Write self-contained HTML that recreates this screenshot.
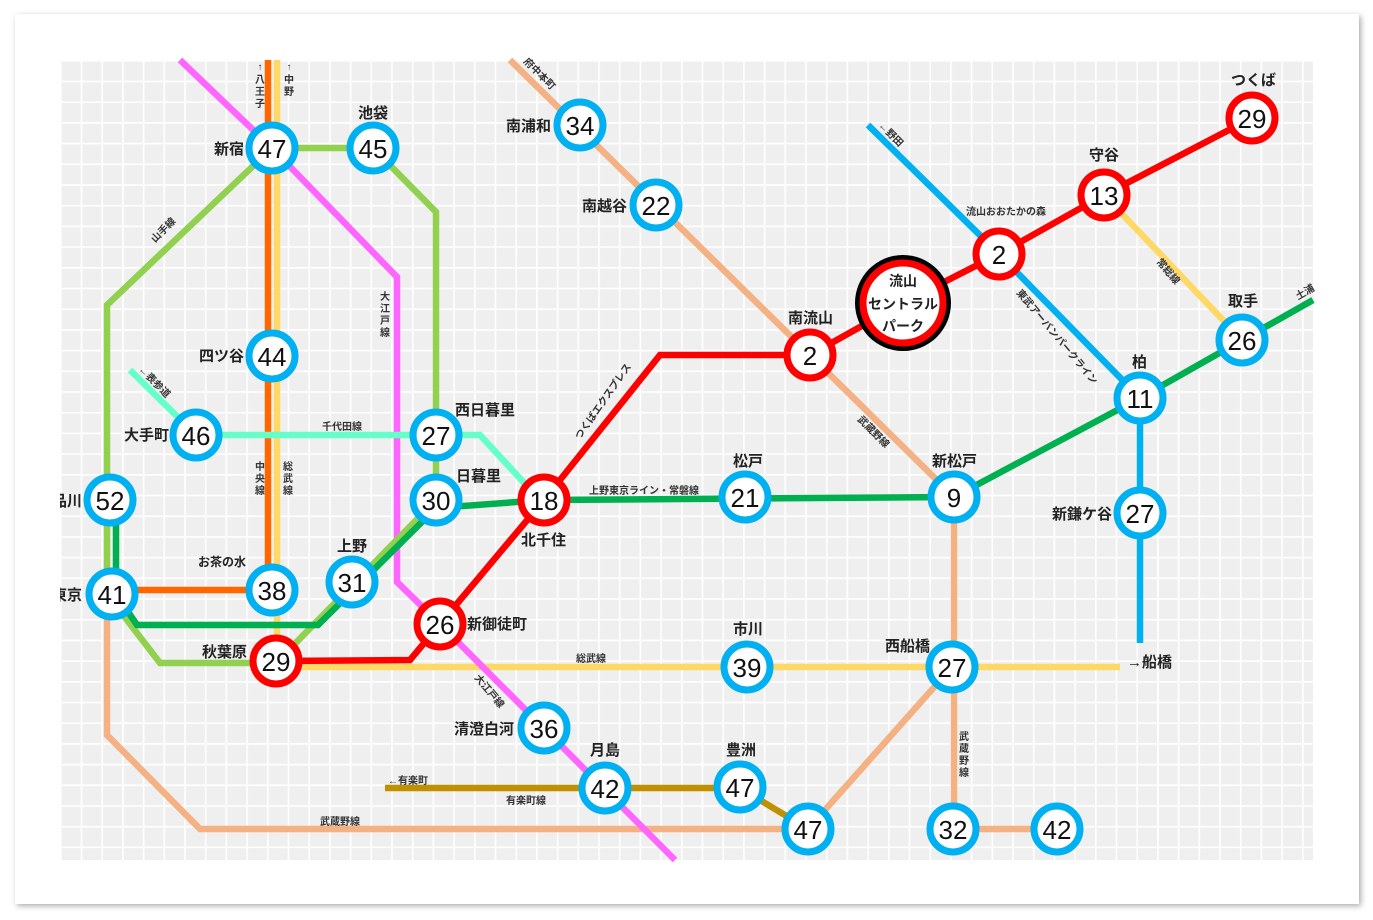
<!DOCTYPE html>
<html><head><meta charset="utf-8"><style>
html,body{margin:0;padding:0;background:#fff;}
svg{display:block;font-family:"Liberation Sans","Noto Sans CJK JP",sans-serif;}
.n{font-size:26px;font-weight:normal;text-anchor:middle;dominant-baseline:central;fill:#111;}
.s{font-size:15px;font-weight:bold;fill:#222;}
.l{font-size:10px;font-weight:bold;fill:#333;}
</style></head><body>
<svg width="1373" height="920" viewBox="0 0 1373 920" xmlns="http://www.w3.org/2000/svg">
<defs>
<pattern id="g" x="60" y="60" width="20.7" height="20.7" patternUnits="userSpaceOnUse">
<rect width="20.7" height="20.7" fill="#efefef"/>
<rect width="1.6" height="20.7" fill="#fff"/><rect width="20.7" height="1.6" fill="#fff"/>
</pattern>
<clipPath id="cp"><rect x="60" y="60" width="1253" height="800"/></clipPath>
<filter id="sh" x="-5%" y="-5%" width="110%" height="110%"><feDropShadow dx="2" dy="2" stdDeviation="3" flood-color="#888" flood-opacity="0.7"/></filter>
</defs>
<rect x="15" y="14" width="1344" height="890" fill="#fff" filter="url(#sh)"/>
<rect x="60" y="60" width="1253" height="800" fill="url(#g)"/>
<g fill="none" stroke-width="6.5" stroke-linejoin="miter">
<polyline stroke="#f4b183" points="510,60 810,355 954,497 954,829 1057,829"/>
<polyline stroke="#f4b183" points="952,667 808,829 200,829 107,735 107,594"/>
<polyline stroke="#00b0f0" points="868,125 999,254 1140,398 1140,643"/>
<polyline stroke="#ffd966" points="1104,195 1242,340"/>
<line stroke="#ffd966" x1="277" y1="60" x2="277" y2="661"/>
<line stroke="#ff6600" x1="268" y1="60" x2="268" y2="590"/>
<line stroke="#ff6600" x1="112" y1="590" x2="272" y2="590"/>
<polyline stroke="#ffd966" points="276,667 1120,667"/>
<polyline stroke="#ff66ff" points="180,60 272,148 397,277 397,582 440,624 675,860"/>
<polyline stroke="#92d050" points="272,148 107,305 107,594 160,663 276,663 436,500"/>
<polyline stroke="#92d050" points="272,148 373,148 436,212 436,500"/>
<polyline stroke="#00b050" points="116,500 116,594 137,625 318,625 436,508 544,500 954,497 1140,398 1313,300"/>
<polyline stroke="#66ffcc" points="130,370 196,435 480,435 528,487"/>
<polyline stroke="#bf9000" points="385,788 740,788 808,829"/>
<polyline stroke="#ff0000" points="1252,118 1104,195 999,254 903,303 810,355 660,355 544,500 440,624 410,660 276,661"/>
</g>
<g fill="#fff" stroke="#00b0f0" stroke-width="7">
<circle cx="272" cy="148" r="23"/><circle cx="373" cy="148" r="23"/><circle cx="272" cy="356" r="23"/>
<circle cx="196" cy="435" r="23"/><circle cx="436" cy="435" r="23"/><circle cx="436" cy="500" r="23"/>
<circle cx="110" cy="500" r="23"/><circle cx="112" cy="594" r="23"/><circle cx="272" cy="590" r="23"/>
<circle cx="352" cy="582" r="23"/><circle cx="580" cy="125" r="23"/><circle cx="656" cy="205" r="23"/>
<circle cx="745" cy="497" r="23"/><circle cx="954" cy="497" r="23"/><circle cx="1140" cy="398" r="23"/>
<circle cx="1242" cy="340" r="23"/><circle cx="1140" cy="513" r="23"/><circle cx="952" cy="667" r="23"/>
<circle cx="747" cy="667" r="23"/><circle cx="544" cy="728" r="23"/><circle cx="605" cy="788" r="23"/>
<circle cx="740" cy="787" r="23"/><circle cx="808" cy="829" r="23"/><circle cx="953" cy="829" r="23"/>
<circle cx="1057" cy="829" r="23"/>
</g>
<circle cx="903" cy="303" r="48" fill="#000"/>
<g fill="#fff" stroke="#ff0000" stroke-width="7">
<circle cx="1252" cy="118" r="23"/><circle cx="1104" cy="195" r="23"/><circle cx="999" cy="254" r="23"/>
<circle cx="810" cy="355" r="23"/><circle cx="544" cy="500" r="23"/><circle cx="440" cy="624" r="23"/>
<circle cx="276" cy="661" r="23"/>
<circle cx="903" cy="303" r="40"/>
</g>
<g class="n">
<text x="272" y="149">47</text><text x="373" y="149">45</text><text x="272" y="357">44</text>
<text x="196" y="436">46</text><text x="436" y="436">27</text><text x="436" y="501">30</text>
<text x="110" y="501">52</text><text x="112" y="595">41</text><text x="272" y="591">38</text>
<text x="352" y="583">31</text><text x="580" y="126">34</text><text x="656" y="206">22</text>
<text x="745" y="498">21</text><text x="954" y="498">9</text><text x="1140" y="399">11</text>
<text x="1242" y="341">26</text><text x="1140" y="514">27</text><text x="952" y="668">27</text>
<text x="747" y="668">39</text><text x="544" y="729">36</text><text x="605" y="789">42</text>
<text x="740" y="788">47</text><text x="808" y="830">47</text><text x="953" y="830">32</text>
<text x="1057" y="830">42</text>
<text x="1252" y="119">29</text><text x="1104" y="196">13</text><text x="999" y="255">2</text>
<text x="810" y="356">2</text><text x="544" y="501">18</text><text x="440" y="625">26</text>
<text x="276" y="662">29</text>
</g>
<g class="s" text-anchor="middle">
<text x="903" y="286" font-size="14">流山</text>
<text x="903" y="309" font-size="14">セントラル</text>
<text x="903" y="331" font-size="14">パーク</text>
</g>
<g class="s" clip-path="url(#cp)">
<text x="214" y="154">新宿</text><text x="358" y="118">池袋</text><text x="199" y="361">四ツ谷</text>
<text x="124" y="440">大手町</text><text x="455" y="415">西日暮里</text><text x="456" y="481">日暮里</text>
<text x="52" y="506">品川</text><text x="52" y="600">東京</text><text x="198" y="566" font-size="12">お茶の水</text>
<text x="337" y="551">上野</text><text x="202" y="657">秋葉原</text><text x="506" y="131">南浦和</text>
<text x="582" y="211">南越谷</text><text x="788" y="323">南流山</text><text x="733" y="466">松戸</text>
<text x="932" y="466">新松戸</text><text x="1132" y="367">柏</text><text x="1228" y="306">取手</text>
<text x="1052" y="519">新鎌ケ谷</text><text x="885" y="651">西船橋</text><text x="733" y="634">市川</text>
<text x="1127" y="667">→船橋</text><text x="454" y="734">清澄白河</text><text x="590" y="755">月島</text>
<text x="726" y="755">豊洲</text><text x="521" y="545">北千住</text><text x="467" y="629">新御徒町</text>
<text x="1089" y="160">守谷</text><text x="1231" y="85">つくば</text>
</g>
<g class="l">
<text x="966" y="215">流山おおたかの森</text>
<text x="322" y="430">千代田線</text><text x="589" y="494">上野東京ライン・常磐線</text>
<text x="576" y="662">総武線</text><text x="506" y="804">有楽町線</text><text x="388" y="784">←有楽町</text>
<text x="320" y="825">武蔵野線</text>
<text transform="translate(155,243) rotate(-45)">山手線</text>
<text transform="translate(138,370) rotate(45)">←表参道</text>
<text transform="translate(878,126) rotate(45)">←野田</text>
<text transform="translate(523,62) rotate(45)">府中本町</text>
<text transform="translate(857,420) rotate(45)">武蔵野線</text>
<text transform="translate(1016,293) rotate(50)">東武アーバンパークライン</text>
<text transform="translate(1156,262) rotate(50)">常総線</text>
<text transform="translate(580,440) rotate(-55)">つくばエクスプレス</text>
<text transform="translate(474,678) rotate(50)">大江戸線</text>
<text transform="translate(1298,300) rotate(-30)">土浦</text>
</g>
<g class="l" text-anchor="middle">
<text x="260" y="70">↑</text><text x="260" y="83">八</text><text x="260" y="95">王</text><text x="260" y="107">子</text>
<text x="289" y="70">↑</text><text x="289" y="83">中</text><text x="289" y="95">野</text>
<text x="385" y="300">大</text><text x="385" y="312">江</text><text x="385" y="324">戸</text><text x="385" y="336">線</text>
<text x="260" y="470">中</text><text x="260" y="482">央</text><text x="260" y="494">線</text>
<text x="288" y="470">総</text><text x="288" y="482">武</text><text x="288" y="494">線</text>
<text x="964" y="740">武</text><text x="964" y="752">蔵</text><text x="964" y="764">野</text><text x="964" y="776">線</text>
</g>
</svg>
</body></html>
